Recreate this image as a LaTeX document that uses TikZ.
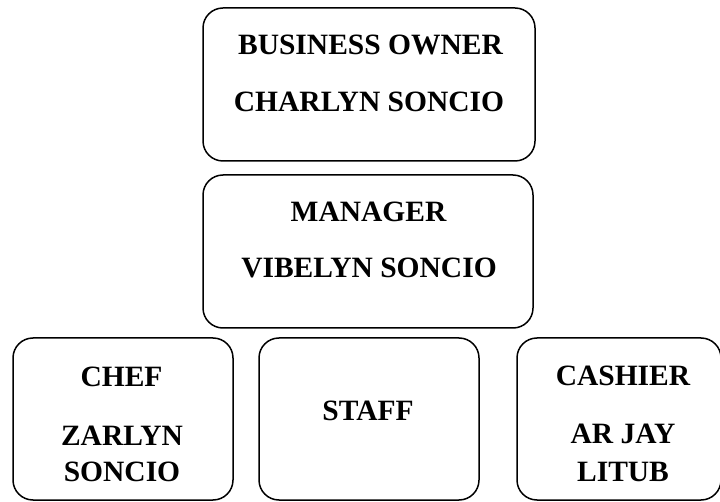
\documentclass[tikz,border=0pt]{standalone}
\usepackage{fontspec}
\setmainfont{Liberation Serif}
\begin{document}
\begin{tikzpicture}[x=1pt,y=-1pt,
  box/.style={draw=black,line width=1.5pt,rounded corners=20pt,rectangle,inner sep=0pt},
  lbl/.style={anchor=base,inner sep=0pt,font=\fontsize{29.5}{31}\selectfont\bfseries}]
\useasboundingbox (0,0) rectangle (720,502);
% boxes
\node[box,minimum width=332pt,minimum height=153pt] (owner) at (369,84.5) {};
\node[box,minimum width=330pt,minimum height=153pt] (manager) at (368,251.5) {};
\node[box,minimum width=220pt,minimum height=162pt] (chef) at (123,419) {};
\node[box,minimum width=220pt,minimum height=162pt] (staff) at (369,419) {};
\node[box,minimum width=204pt,minimum height=162pt] (cashier) at (619,419) {};
% texts
\node[lbl] (t1) at (370.5,55) {BUSINESS OWNER};
\node[lbl] (t2) at (369,112) {CHARLYN SONCIO};
\node[lbl] (t3) at (368.5,222) {MANAGER};
\node[lbl] (t4) at (369,278) {VIBELYN SONCIO};
\node[lbl] (t5) at (121.5,386) {CHEF};
\node[lbl] (t6) at (122,445) {ZARLYN};
\node[lbl] (t7) at (122,481) {SONCIO};
\node[lbl] (t8) at (368,420) {STAFF};
\node[lbl] (t9) at (623,385) {CASHIER};
\node[lbl] (t10) at (623,443) {AR JAY};
\node[lbl] (t11) at (623,481) {LITUB};
\end{tikzpicture}
\end{document}
